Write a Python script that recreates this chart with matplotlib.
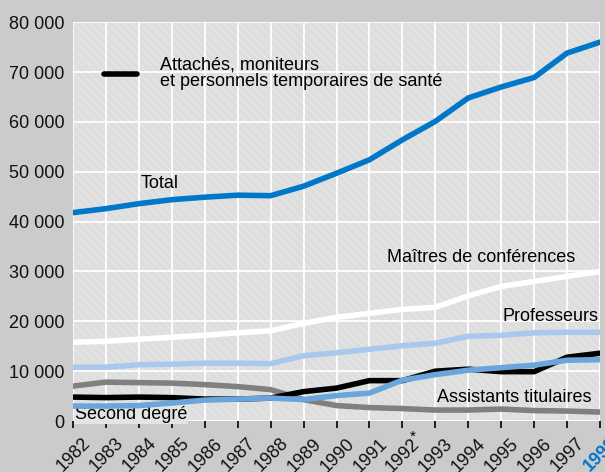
import numpy as np
import matplotlib
matplotlib.use('Agg')
import matplotlib.pyplot as plt
import matplotlib.transforms as mtransforms
from matplotlib.patches import Rectangle
from matplotlib.ticker import FuncFormatter

plt.rcParams['font.family'] = ['Liberation Sans', 'DejaVu Sans']
plt.rcParams['hatch.linewidth'] = 0.7

# Donnees
annees = list(range(1982, 1999))
total = [41800, 42600, 43600, 44400, 44900, 45300, 45200, 47100, 49700, 52400,
         56400, 60100, 64800, 67000, 68900, 73800, 76000]
maitres = [15800, 16000, 16400, 16800, 17200, 17700, 18100, 19600, 20800, 21600,
           22400, 22800, 25100, 27000, 28000, 29000, 30000]
professeurs = [10800, 10800, 11300, 11400, 11600, 11600, 11500, 13100, 13700, 14400,
               15100, 15600, 17000, 17200, 17700, 17800, 17800]
attaches = [4800, 4700, 4800, 4700, 4400, 4400, 4600, 5900, 6600, 8100,
            8100, 10000, 10400, 9900, 9900, 12800, 13600]
second_degre = [3000, 3000, 3100, 3600, 4200, 4400, 4600, 4300, 5100, 5600,
                8200, 9300, 10200, 10700, 11200, 12200, 12300]
assistants = [7000, 7800, 7700, 7600, 7300, 6900, 6300, 4300, 3100, 2700,
              2500, 2200, 2200, 2400, 2100, 2000, 1800]

fig = plt.figure(figsize=(6.05, 4.72), dpi=100, facecolor='#cbcbcb')
ax = fig.add_axes([0.1207, 0.108, 0.871, 0.845])
ax.set_facecolor('#dedede')
ax.add_patch(Rectangle((0, 0), 1, 1, transform=ax.transAxes, facecolor='none',
                       edgecolor='#e8e8e8', hatch='\\\\\\\\', lw=0, zorder=0))

for s in ax.spines.values():
    s.set_visible(False)

ax.set_xlim(1982, 1998)
ax.set_ylim(0, 80000)
ax.set_xticks(annees)
ax.set_yticks(range(0, 80001, 10000))
ax.grid(True, color='white', lw=1.3, zorder=1)
ax.set_axisbelow(True)

ax.yaxis.set_major_formatter(FuncFormatter(lambda v, p: f'{int(v):,}'.replace(',', ' ')))
ax.tick_params(axis='y', length=0, labelsize=13, pad=6, colors='#111111')
ax.tick_params(axis='x', length=5, width=1.3, direction='out', labelsize=13,
               colors='#111111', pad=5)
ax.set_xticklabels([str(a) for a in annees], rotation=45, ha='right', va='top',
                   rotation_mode='anchor')
decal = mtransforms.ScaledTranslation(9 / 100, 0, fig.dpi_scale_trans)
for lab in ax.get_xticklabels():
    lab.set_transform(lab.get_transform() + decal)
lab = ax.get_xticklabels()[-1]
lab.set_color('#0077c8')
lab.set_fontweight('bold')

lw = 4
ax.plot(annees, assistants, color='#808080', lw=lw, zorder=3, solid_capstyle='round')
ax.plot(annees, attaches, color='black', lw=lw, zorder=3, solid_capstyle='round')
ax.plot(annees, second_degre, color='#6aa5dc', lw=lw, zorder=4, solid_capstyle='round')
ax.plot(annees, professeurs, color='#a9c9ec', lw=lw, zorder=3, solid_capstyle='round')
ax.plot(annees, maitres, color='white', lw=lw, zorder=3, solid_capstyle='round')
ax.plot(annees, total, color='#0077c8', lw=lw, zorder=3, solid_capstyle='round')

fs = 13
ax.text(1984.05, 47700, 'Total', fontsize=fs, va='center', ha='left', zorder=5)
ax.text(1997.25, 32900, 'Maîtres de conférences', fontsize=fs, va='center', ha='right', zorder=5)
ax.text(1997.95, 21000, 'Professeurs', fontsize=fs, va='center', ha='right', zorder=5)
ax.text(1997.75, 4800, 'Assistants titulaires', fontsize=fs, va='center', ha='right', zorder=5)
ax.text(1982.06, 1300, 'Second degré', fontsize=fs, va='center', ha='left', zorder=3.5,
        bbox=dict(facecolor='#e4e4e4', edgecolor='none', pad=0.5))

# legende de la serie noire
ax.plot([1982.95, 1983.95], [69700, 69700], color='black', lw=lw,
        solid_capstyle='round', zorder=5)
ax.text(1984.65, 69700, 'Attachés, moniteurs\net personnels temporaires de santé',
        fontsize=fs, va='center', ha='left', linespacing=0.95, zorder=5)

ax.annotate('*', xy=(1992.3, 0), xycoords=('data', 'axes fraction'),
            xytext=(0, -6), textcoords='offset points', fontsize=11,
            ha='center', va='top')

fig.savefig('out.png', dpi=100, facecolor=fig.get_facecolor())
